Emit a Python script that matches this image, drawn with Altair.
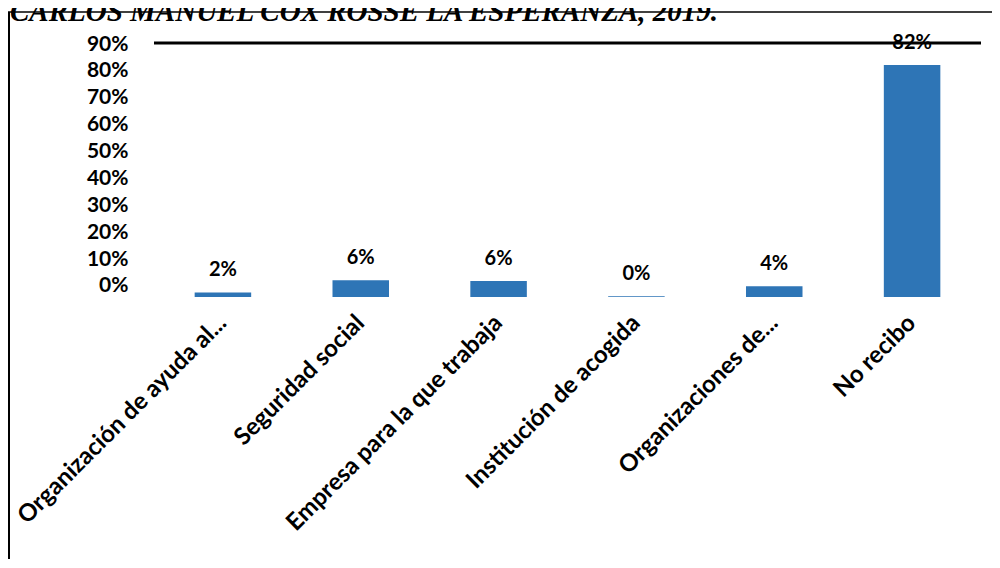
import altair as alt
import pandas as pd

categories = [
    "Organización de ayuda al...",
    "Seguridad social",
    "Empresa para la que trabaja",
    "Institución  de acogida",
    "Organizaciones de...",
    "No recibo",
]
values = [1.6, 5.9, 5.7, 0.3, 3.8, 82.2]
value_labels = ["2%", "6%", "6%", "0%", "4%", "82%"]
y_ticks = [0, 10, 20, 30, 40, 50, 60, 70, 80, 90]
title_text = "CARLOS MANUEL COX ROSSE LA ESPERANZA, 2019."

df = pd.DataFrame({"cat": categories, "v": values, "lab": value_labels})

FONT = "Lato"
BLUE = "#2E75B6"

x_enc = alt.X(
    "cat:N",
    sort=None,
    scale=alt.Scale(paddingInner=0.59, paddingOuter=0.295),
    axis=alt.Axis(
        title=None, labelAngle=-45, labelAlign="right", labelBaseline="middle",
        labelFont=FONT, labelFontWeight="bold", labelFontSize=24, labelColor="black",
        labelPadding=22, domain=False, ticks=False, tickSize=0, labelLimit=500,
    ),
)
main_scale = alt.Scale(domain=[0, 90], nice=False, zero=True)

base = alt.Chart(df)

bars = base.mark_bar(color=BLUE).encode(
    x=x_enc,
    y=alt.Y(
        "v:Q", scale=main_scale,
        axis=alt.Axis(
            title=None, values=y_ticks, labels=False, ticks=False, tickSize=0,
            domain=False, grid=True, gridColor="#D9D9D9", gridWidth=1.2,
        ),
    ),
)

texts = base.mark_text(
    font=FONT, fontWeight="bold", fontSize=20, color="black",
    baseline="middle", dy=-22,
).encode(x=alt.X("cat:N", sort=None), y=alt.Y("v:Q", scale=main_scale, axis=None), text="lab:N")

top_line = base.mark_rule(color="black", strokeWidth=3).encode(
    y=alt.Y("top:Q", scale=main_scale, axis=None),
).transform_calculate(top="90").transform_filter("datum.cat == 'No recibo'")

one = alt.Data(values=[{"t": title_text}])

title_mark = alt.Chart(one).mark_text(
    font="Liberation Serif", fontStyle="italic", fontWeight="bold", fontSize=29,
    align="left", baseline="alphabetic", color="black",
).encode(x=alt.value(-144), y=alt.value(-22), text="t:N")

border_top = alt.Chart(one).mark_rule(color="black", strokeWidth=1.5).encode(
    x=alt.value(-146), x2=alt.value(860), y=alt.value(-31)
)
border_left = alt.Chart(one).mark_rule(color="black", strokeWidth=2).encode(
    x=alt.value(-145), y=alt.value(-31), y2=alt.value(600)
)

main = alt.layer(bars, top_line, texts, title_mark, border_top, border_left)

label_layer = base.mark_point(opacity=0).encode(
    x=alt.X("cat:N", sort=None),
    y=alt.Y(
        "v:Q",
        scale=alt.Scale(domain=[-4.1, 90.4], nice=False, zero=False),
        axis=alt.Axis(
            title=None, orient="left", values=y_ticks, labelExpr="datum.value + '%'",
            grid=False, domain=False, ticks=False, tickSize=0, labelPadding=26,
            labelFont=FONT, labelFontWeight="bold", labelFontSize=21, labelColor="black",
        ),
    ),
)

chart = alt.layer(main, label_layer).resolve_scale(y="independent").properties(
    width=827,
    height=254,
    autosize=alt.AutoSizeParams(type="none"),
    padding={"left": 146, "top": 35, "right": 11, "bottom": 262},
).configure_view(stroke=None)

chart.save("out.html", embed_options={"renderer": "svg", "actions": False})
